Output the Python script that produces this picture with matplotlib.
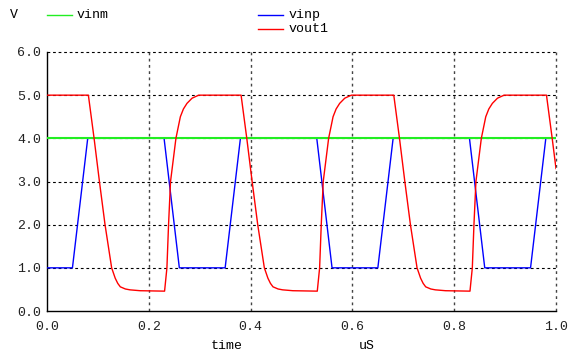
import matplotlib
matplotlib.use("Agg")
import matplotlib.pyplot as plt
from matplotlib.lines import Line2D

# Comparator transient: inputs vinm / vinp and output vout1 (time in uS, volts)
vinm_t = [0.0, 1.0]
vinm_v = [4.0, 4.0]

vinp_t = [0.0, 0.05, 0.08, 0.23, 0.26, 0.35, 0.38, 0.53, 0.56,
          0.65, 0.68, 0.83, 0.86, 0.95, 0.98, 1.0]
vinp_v = [1.0, 1.0, 4.0, 4.0, 1.0, 1.0, 4.0, 4.0, 1.0,
          1.0, 4.0, 4.0, 1.0, 1.0, 4.0, 4.0]

vout1_t = [0.0,
           0.0813, 0.0925, 0.103, 0.114, 0.127, 0.134, 0.139, 0.144, 0.154, 0.163, 0.183, 0.231,
           0.2356, 0.2388, 0.2427, 0.2533, 0.262, 0.268, 0.275, 0.285, 0.298,
           0.3813, 0.3925, 0.403, 0.414, 0.427, 0.434, 0.439, 0.444, 0.454, 0.463, 0.483, 0.531,
           0.5356, 0.5388, 0.5427, 0.5533, 0.562, 0.568, 0.575, 0.585, 0.598,
           0.6813, 0.6925, 0.703, 0.714, 0.727, 0.734, 0.739, 0.744, 0.754, 0.763, 0.783, 0.831,
           0.8356, 0.8388, 0.8427, 0.8533, 0.862, 0.868, 0.875, 0.885, 0.898,
           0.9813, 0.9925, 1.0]
vout1_v = [5.0,
           5.0, 4.0, 3.0, 2.0, 1.0, 0.76, 0.64, 0.56, 0.51, 0.49, 0.47, 0.46,
           1.0, 2.0, 3.0, 4.0, 4.5, 4.68, 4.81, 4.93, 5.0,
           5.0, 4.0, 3.0, 2.0, 1.0, 0.76, 0.64, 0.56, 0.51, 0.49, 0.47, 0.46,
           1.0, 2.0, 3.0, 4.0, 4.5, 4.68, 4.81, 4.93, 5.0,
           5.0, 4.0, 3.0, 2.0, 1.0, 0.76, 0.64, 0.56, 0.51, 0.49, 0.47, 0.46,
           1.0, 2.0, 3.0, 4.0, 4.5, 4.68, 4.81, 4.93, 5.0,
           5.0, 4.0, 3.3]

x_ticks = [0.0, 0.2, 0.4, 0.6, 0.8, 1.0]
x_labels = ["0.0", "0.2", "0.4", "0.6", "0.8", "1.0"]
y_ticks = [0.0, 1.0, 2.0, 3.0, 4.0, 5.0, 6.0]
y_labels = ["0.0", "1.0", "2.0", "3.0", "4.0", "5.0", "6.0"]

FONT = "Liberation Mono"
FS = 9.5
W, H = 568, 356

fig = plt.figure(figsize=(W / 100, H / 100), dpi=100)
ax = fig.add_axes([47 / W, 1 - 311 / H, (556 - 47) / W, (311 - 52) / H])

ax.set_xlim(0, 1)
ax.set_ylim(0, 6)

# dashed grid, including the top and right borders
for y in y_ticks[1:]:
    ax.axhline(y, color="black", lw=0.8, ls=(0, (2.5, 2.5)), clip_on=False, zorder=1)
for x in x_ticks[1:]:
    ax.axvline(x, color="#444444", lw=1.0, ls=(0, (2, 2.5)), clip_on=False, zorder=1)

ax.plot(vinp_t, vinp_v, color="#0000ff", lw=1.0, zorder=3)
ax.plot(vinm_t, vinm_v, color="#22ee22", lw=1.5, zorder=4)
ax.plot(vout1_t, vout1_v, color="#ff0000", lw=1.0, zorder=5)

for s in ("top", "right"):
    ax.spines[s].set_visible(False)
for s in ("left", "bottom"):
    ax.spines[s].set_linewidth(1.0)
    ax.spines[s].set_color("black")

ax.set_xticks(x_ticks)
ax.set_xticklabels(x_labels, fontfamily=FONT, fontsize=FS, color="#222222")
ax.set_yticks(y_ticks)
ax.set_yticklabels(y_labels, fontfamily=FONT, fontsize=FS, color="#222222")
ax.tick_params(axis="y", length=0, pad=4)
ax.tick_params(axis="x", length=0, pad=7)


def px(x, y):
    return x / W, 1 - y / H


fig.text(*px(10, 15), "V", fontfamily=FONT, fontsize=FS, va="center", ha="left")
fig.text(*px(211, 346), "time", fontfamily=FONT, fontsize=FS, va="center", ha="left")
fig.text(*px(359, 346), "uS", fontfamily=FONT, fontsize=FS, va="center", ha="left")

# legend entries
legend_items = [("vinm", "#22ee22", 47, 72, 77, 15),
                ("vinp", "#0000ff", 258, 283, 289, 15),
                ("vout1", "#ff0000", 258, 283, 289, 29)]
for name, col, x0, x1, xt, y in legend_items:
    (a0, b0), (a1, b1) = px(x0, y), px(x1, y)
    fig.add_artist(Line2D([a0, a1], [b0, b1], color=col, lw=1.0, transform=fig.transFigure))
    fig.text(*px(xt, y), name, fontfamily=FONT, fontsize=FS, va="center", ha="left")

fig.savefig("out.png", dpi=100)
